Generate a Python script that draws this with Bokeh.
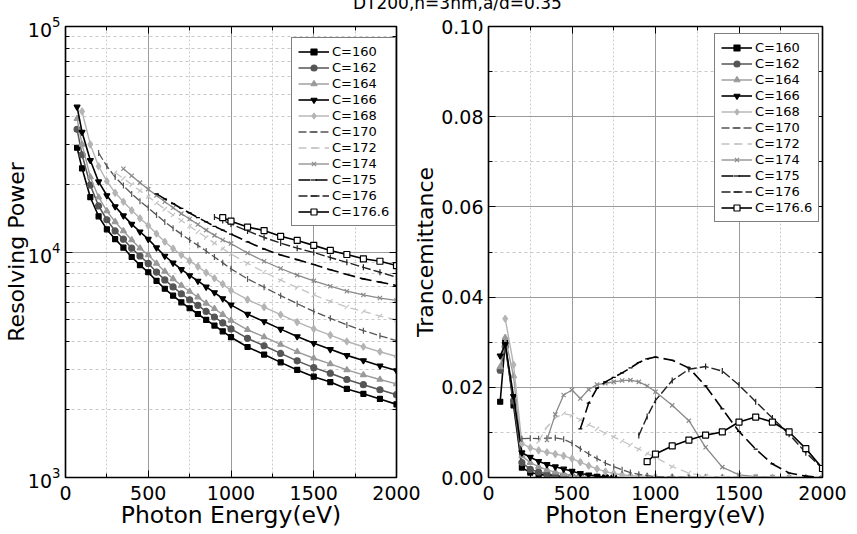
import math
from bokeh.plotting import figure
from bokeh.layouts import row, column
from bokeh.models import (Div, Legend, LegendItem, LinearAxis, LogAxis, Range1d,
                          SingleIntervalTicker, LogTicker, PrintfTickFormatter,
                          CustomJSTickFormatter)
from bokeh.embed import file_html
from bokeh.resources import INLINE

TITLE = "DT200,n=3nm,a/d=0.35"
X_LABEL = "Photon Energy(eV)"
Y1_LABEL = "Resolving Power"
Y2_LABEL = "Trancemittance"

# photon energy grid (eV)
E = [70, 100, 150, 200, 250, 300, 350, 400, 450, 500, 550, 600, 650, 700, 750, 800, 850,
     900, 950, 1000, 1100, 1200, 1300, 1400, 1500, 1600, 1700, 1800, 1900, 2000]

labels = ["C=160", "C=162", "C=164", "C=166", "C=168", "C=170", "C=172", "C=174",
          "C=175", "C=176", "C=176.6"]

# resolving power (each series ends at 2000 eV)
R_160 = [29000, 23500, 17500, 14400, 12600, 11400, 10450, 9500, 8750, 8130, 7450, 6870, 6400,
         5980, 5630, 5310, 5000, 4720, 4450, 4190, 3790, 3510, 3240, 3000, 2800, 2650, 2470,
         2350, 2230, 2110]
R_162 = [35000, 27000, 19800, 16000, 13900, 12400, 11400, 10400, 9600, 8900, 8150, 7520, 7000,
         6530, 6140, 5800, 5450, 5150, 4850, 4560, 4140, 3840, 3550, 3290, 3070, 2900, 2720,
         2580, 2450, 2330]
R_164 = [39000, 30000, 21500, 17500, 15200, 13600, 12400, 11300, 10400, 9700, 8900, 8200, 7600,
         7100, 6680, 6310, 5920, 5600, 5280, 4970, 4520, 4200, 3890, 3610, 3380, 3190, 3000,
         2850, 2720, 2600]
R_166 = [44000, 34000, 25500, 20500, 17800, 15900, 14500, 13300, 12300, 11400, 10450, 9600, 8950,
         8370, 7870, 7440, 7000, 6610, 6220, 5830, 5300, 4920, 4550, 4220, 3940, 3700, 3480,
         3300, 3130, 2980]
R_168 = [42000, 30000, 24000, 20600, 18300, 16700, 15300, 14100, 13100, 12050, 11100, 10350,
         9700, 9130, 8620, 8100, 7650, 7200, 6750, 6150, 5700, 5270, 4890, 4560, 4280, 4010,
         3800, 3610, 3440]
R_170 = [27500, 24000, 21500, 19700, 18100, 16800, 15700, 14600, 13600, 12750, 12000, 11300,
         10700, 10100, 9500, 8950, 8420, 7600, 6980, 6400, 5900, 5450, 5080, 4750, 4480, 4250,
         4050]
R_172 = [22500, 21200, 19900, 18700, 17600, 16500, 15500, 14600, 13800, 13000, 12300, 11600,
         10950, 10350, 9800, 8900, 8150, 7500, 6950, 6450, 6050, 5700, 5450, 5200, 5000]
R_174 = [23400, 21800, 20300, 19000, 17800, 16700, 15700, 14800, 14000, 13250, 12500, 11850,
         11300, 10900, 9900, 9100, 8450, 7900, 7450, 7050, 6700, 6450, 6250, 6100]
R_175 = [18100, 17200, 16400, 15600, 14900, 14200, 13600, 13000, 12500, 12000, 11100, 10300,
         9700, 9250, 8800, 8350, 7950, 7600, 7350, 7100]
R_176 = [14300, 13800, 13300, 12400, 11600, 10950, 10400, 9950, 9450, 9000, 8550, 8130, 7730]
R_1766 = [14200, 13700, 12900, 12450, 11740, 11250, 10700, 10160, 9750, 9330, 9100, 8710]

# transmittance (each series starts at the same energy as its resolving-power series)
T_160 = [0.0168, 0.0300, 0.0160, 0.0022, 0.0011, 0.0007, 0.0005, 0.0003, 0.0002, 0.0001,
         0.0001, 0.0, 0.0, 0.0, 0.0]
T_162 = [0.0238, 0.0290, 0.0170, 0.0033, 0.0018, 0.0012, 0.0008, 0.0005, 0.0003, 0.0002,
         0.0001, 0.0001, 0.0, 0.0, 0.0]
T_164 = [0.0245, 0.0310, 0.0225, 0.0048, 0.0033, 0.0024, 0.0017, 0.0012, 0.0008, 0.0005,
         0.0003, 0.0002, 0.0001, 0.0001, 0.0, 0.0]
T_166 = [0.0270, 0.0295, 0.0180, 0.0055, 0.0045, 0.0036, 0.0029, 0.0024, 0.0019, 0.0014,
         0.0009, 0.0006, 0.0003, 0.0001, 0.0]
T_168 = [0.0352, 0.0250, 0.0075, 0.0066, 0.0060, 0.0056, 0.0052, 0.0048, 0.0042, 0.0034,
         0.0026, 0.0019, 0.0013, 0.0009, 0.0006, 0.0004, 0.0003, 0.0002, 0.0001, 0.0001,
         0.0, 0.0, 0.0, 0.0, 0.0, 0.0, 0.0, 0.0, 0.0]
T_170 = [0.0086, 0.0087, 0.0086, 0.0087, 0.0088, 0.0085, 0.0076, 0.0064, 0.0052, 0.0042,
         0.0032, 0.0024, 0.0017, 0.0011, 0.0007, 0.0004, 0.0002, 0.0001, 0.0, 0.0, 0.0, 0.0]
T_172 = [0.0080, 0.0112, 0.0132, 0.0142, 0.0138, 0.0128, 0.0117, 0.0108, 0.0098, 0.0090,
         0.0081, 0.0072, 0.0063, 0.0053, 0.0045, 0.0024, 0.0010, 0.0003, 0.0001, 0.0, 0.0,
         0.0, 0.0, 0.0, 0.0]
T_174 = [0.0083, 0.0140, 0.0183, 0.0194, 0.0175, 0.0195, 0.0206, 0.0209, 0.0212, 0.0215,
         0.0216, 0.0212, 0.0203, 0.0190, 0.0160, 0.0126, 0.0067, 0.0023, 0.0006, 0.0002,
         0.0001, 0.0, 0.0, 0.0]
T_175 = [0.0108, 0.0165, 0.0198, 0.0212, 0.0222, 0.0232, 0.0243, 0.0255, 0.0263, 0.0267,
         0.0260, 0.0243, 0.0203, 0.0152, 0.0102, 0.0063, 0.0030, 0.0010, 0.0003, 0.0]
T_176 = [0.0093, 0.0135, 0.0171, 0.0215, 0.0240, 0.0246, 0.0236, 0.0205, 0.0168, 0.0132,
         0.0096, 0.0055, 0.0020]
T_1766 = [0.0035, 0.0052, 0.0070, 0.0083, 0.0094, 0.0101, 0.0123, 0.0134, 0.0123, 0.0101,
          0.0064, 0.0020]

R_series = [R_160, R_162, R_164, R_166, R_168, R_170, R_172, R_174, R_175, R_176, R_1766]
T_series = [T_160, T_162, T_164, T_166, T_168, T_170, T_172, T_174, T_175, T_176, T_1766]

STYLES = [
    dict(color="#000000", dash="solid", marker="square", fill="#000000", angle=0.0, size=5, lw=1.6),
    dict(color="#555555", dash="solid", marker="circle", fill="#555555", angle=0.0, size=6, lw=1.5),
    dict(color="#9a9a9a", dash="solid", marker="triangle", fill="#9a9a9a", angle=0.0, size=6, lw=1.4),
    dict(color="#000000", dash="solid", marker="inverted_triangle", fill="#000000", angle=0.0, size=6, lw=1.6),
    dict(color="#b4b4b4", dash="solid", marker="diamond", fill="#b4b4b4", angle=0.0, size=7, lw=1.4),
    dict(color="#555555", dash="8 3", marker="dash", fill="#555555", angle=math.pi / 2, size=6, lw=1.3),
    dict(color="#c4c4c4", dash="8 5", marker="dash", fill="#c4c4c4", angle=math.pi / 4, size=6, lw=1.3),
    dict(color="#8a8a8a", dash="solid", marker="x", fill="#8a8a8a", angle=0.0, size=6, lw=1.3),
    dict(color="#000000", dash="12 5", marker="dash", fill="#000000", angle=0.0, size=4, lw=1.6),
    dict(color="#222222", dash="9 3", marker="dash", fill="#222222", angle=math.pi / 2, size=6, lw=1.4),
    dict(color="#000000", dash="solid", marker="square", fill="#ffffff", angle=0.0, size=6, lw=1.6),
]

FONT = "DejaVu Sans"
TICK_SIZE = "19px"
BLANK = CustomJSTickFormatter(code="return '';")


def style_axis(ax, show_labels=True, standoff=5):
    ax.axis_line_color = "black"
    ax.axis_line_width = 1.2
    ax.major_tick_in = 7
    ax.major_tick_out = 0
    ax.minor_tick_in = 4
    ax.minor_tick_out = 0
    ax.major_tick_line_color = "black"
    ax.minor_tick_line_color = "black"
    ax.major_label_text_font = FONT
    ax.major_label_text_color = "black"
    ax.major_label_text_font_size = TICK_SIZE
    ax.major_label_standoff = standoff
    ax.axis_label_text_color = "black"
    ax.axis_label_text_font = FONT
    ax.axis_label_text_font_style = "normal"
    if not show_labels:
        ax.formatter = BLANK
        ax.major_label_standoff = 0
        ax.major_label_text_font_size = "8px"


def style_fig(p):
    p.outline_line_color = "black"
    p.outline_line_width = 1.5
    p.background_fill_color = "white"
    p.border_fill_color = "white"
    p.border_fill_alpha = 0.0
    p.xgrid.grid_line_color = "#9a9a9a"
    p.ygrid.grid_line_color = "#9a9a9a"
    p.xgrid.minor_grid_line_color = "#c8c8c8"
    p.ygrid.minor_grid_line_color = "#c8c8c8"
    p.xgrid.minor_grid_line_dash = "2 2"
    p.ygrid.minor_grid_line_dash = "3 3"
    p.xaxis.axis_label_text_font_size = "23.5px"
    p.xaxis.axis_label_standoff = -2
    p.yaxis.axis_label_text_font_size = "22px"


xticker = SingleIntervalTicker(interval=500, num_minor_ticks=2)

# ---------------- left: resolving power ----------------
p1 = figure(width=440, height=534, x_range=Range1d(0, 2000), y_range=Range1d(1e3, 1e5),
            y_axis_type="log", output_backend="svg", toolbar_location=None,
            min_border_left=62, min_border_right=44, min_border_top=26, min_border_bottom=57)
p1.xaxis.ticker = xticker
p1.yaxis.ticker = LogTicker(num_minor_ticks=10)
p1.xaxis.axis_label = X_LABEL
p1.yaxis.axis_label = Y1_LABEL
style_axis(p1.xaxis[0], standoff=8)
style_axis(p1.yaxis[0])
style_fig(p1)
p1.yaxis.axis_label_standoff = -4
ax_top1 = LinearAxis(ticker=xticker)
style_axis(ax_top1, False)
p1.add_layout(ax_top1, "above")
ax_right1 = LogAxis(ticker=LogTicker(num_minor_ticks=10))
style_axis(ax_right1, False)
p1.add_layout(ax_right1, "right")

items1 = []
for lab, r, st in zip(labels, R_series, STYLES):
    xs = E[len(E) - len(r):]
    ln = p1.line(xs, r, line_color=st["color"], line_width=st["lw"], line_dash=st["dash"])
    sc = p1.scatter(xs, r, marker=st["marker"], size=st["size"], line_color=st["color"],
                    fill_color=st["fill"], angle=st["angle"], line_width=1.2)
    items1.append(LegendItem(label=lab, renderers=[ln, sc]))

# ---------------- right: transmittance ----------------
yticker = SingleIntervalTicker(interval=0.02, num_minor_ticks=2)
p2 = figure(width=457, height=534, x_range=Range1d(0, 2000), y_range=Range1d(0, 0.1),
            output_backend="svg", toolbar_location=None,
            min_border_left=88, min_border_right=35, min_border_top=26, min_border_bottom=57)
p2.margin = (0, 0, 0, -40)
p2.xaxis.ticker = xticker
p2.yaxis.ticker = yticker
p2.yaxis.formatter = PrintfTickFormatter(format="%.2f")
p2.xaxis.axis_label = X_LABEL
p2.yaxis.axis_label = Y2_LABEL
style_axis(p2.xaxis[0], standoff=8)
style_axis(p2.yaxis[0])
style_fig(p2)
p2.yaxis.axis_label_standoff = 0
ax_top2 = LinearAxis(ticker=xticker)
style_axis(ax_top2, False)
p2.add_layout(ax_top2, "above")
ax_right2 = LinearAxis(ticker=yticker)
style_axis(ax_right2, False)
p2.add_layout(ax_right2, "right")

items2 = []
for lab, r, t, st in zip(labels, R_series, T_series, STYLES):
    start = len(E) - len(r)
    xs = E[start:start + len(t)]
    ln = p2.line(xs, t, line_color=st["color"], line_width=st["lw"], line_dash=st["dash"])
    sc = p2.scatter(xs, t, marker=st["marker"], size=st["size"], line_color=st["color"],
                    fill_color=st["fill"], angle=st["angle"], line_width=1.2)
    items2.append(LegendItem(label=lab, renderers=[ln, sc]))


def make_legend(items, loc):
    lg = Legend(items=items, location=loc)
    lg.label_text_font = FONT
    lg.label_text_font_size = "13px"
    lg.label_text_color = "black"
    lg.glyph_width = 31
    lg.glyph_height = 15
    lg.label_height = 15
    lg.label_standoff = 3
    lg.spacing = 1
    lg.padding = 6
    lg.margin = 0
    lg.border_line_color = "black"
    lg.border_line_width = 1.5
    lg.background_fill_color = "white"
    lg.background_fill_alpha = 1.0
    return lg


p1.add_layout(make_legend(items1, (226, 251)), "center")
p2.add_layout(make_legend(items2, (226, 255)), "center")

title = Div(text=TITLE, width=480, height=5, margin=(-5, 0, 0, 0),
            styles={"font-family": FONT, "font-size": "17px", "line-height": "17px",
                    "padding-left": "353px", "overflow": "visible", "color": "black",
                    "white-space": "nowrap", "position": "relative", "z-index": "10",
                    "pointer-events": "none"})

layout = column(title, row(p1, p2))

open("out.html", "w").write(file_html(layout, INLINE))
